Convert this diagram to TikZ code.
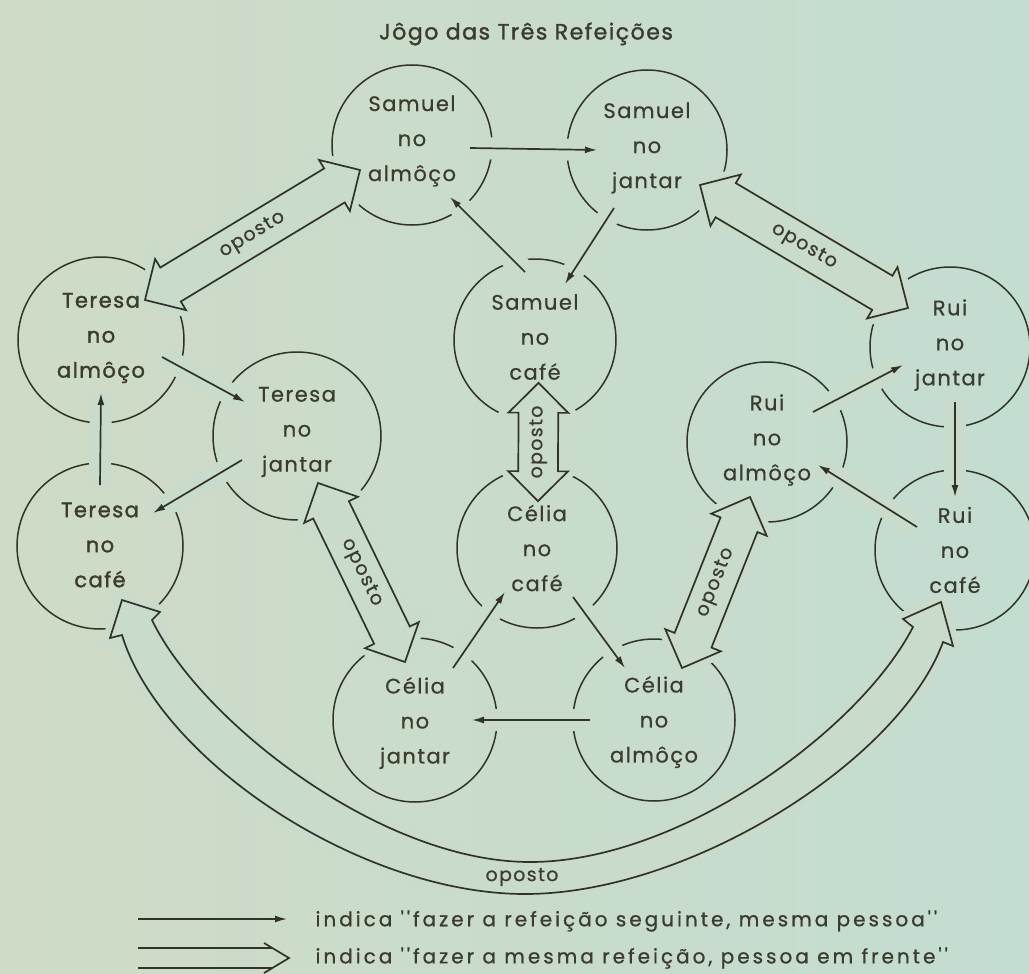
\documentclass[tikz,border=0pt]{standalone}
\usepackage{fontspec}
\setmainfont{Poppins}[LetterSpace=7,FakeBold=0.6]
\newfontfamily\heavy{Poppins}[LetterSpace=7,FakeBold=1.6]
\newfontfamily\keyfont{Poppins}[LetterSpace=15,FakeBold=0.8]
\usetikzlibrary{calc,arrows.meta,shapes.arrows}

\definecolor{paper}{RGB}{201,220,203}
\definecolor{paperL}{RGB}{207,219,198}
\definecolor{paperR}{RGB}{195,221,209}
\definecolor{ink}{RGB}{50,51,40}
\definecolor{type}{RGB}{60,60,46}

\tikzset{
  ring/.style={circle, draw=ink, line width=1.5pt, minimum size=#1, inner sep=0pt},
  words/.style={align=center, text=type, font=\fontsize{21}{35}\selectfont},
  boldwords/.style={align=center, text=type, font=\heavy\fontsize{21}{35}\selectfont},
  nxt/.style={draw=ink, line width=1.7pt, -{Latex[length=12pt,width=7pt]},
    preaction={draw=paper, line width=22pt, arrows=-}},
  opp/.style={double arrow, draw=ink, line width=1.7pt, fill=paper,
    double arrow head extend=10pt, double arrow tip angle=90,
    text height=12pt, text depth=4pt, inner ysep=11pt, inner xsep=2pt,
    text=type, font=\fontsize{19}{19}\selectfont,
    preaction={draw=paper, line width=14pt}},
  hollow/.style={draw=ink, line width=1.7pt, fill=paper, line join=miter,
    preaction={draw=paper, line width=14pt}},
}

% double-headed hollow arrow between two points, labelled "oposto"
\newcommand\opposite[3]{%
  \path let \p1=(#1), \p2=(#2), \n1={veclen(\x2-\x1,\y2-\y1)} in
    (\p1) -- (\p2) node[opp, midway, sloped, allow upside down, minimum height=\n1] (#3) {oposto};}

\begin{document}
\begin{tikzpicture}[x=1pt,y=-1pt]
\shade[left color=paperL, right color=paperR] (0,0) rectangle (1029,974);
\useasboundingbox (0,0) rectangle (1029,974);

% the twelve meals
\node[ring=160] (SA) at (412,145) {};
\node[ring=160] (SJ) at (647,150) {};
\node[ring=162] (SC) at (535,340) {};
\node[ring=160] (CC) at (537,548) {};
\node[ring=164] (CJ) at (415,720) {};
\node[ring=162] (CA) at (654,720) {};
\node[ring=166] (TA) at (101,340) {};
\node[ring=168] (TJ) at (297,436) {};
\node[ring=166] (TC) at (100,546) {};
\node[ring=160] (RJ) at (950,347) {};
\node[ring=160] (RA) at (767,442) {};
\node[ring=160] (RC) at (955,550) {};

% same meal, opposite person
\opposite{$(TA)+(44,-40)$}{$(SA)+(-52,25)$}{o1}
\opposite{$(SJ)+(53,35)$}{$(RJ)+(-42,-39)$}{o2}
\opposite{$(CC)+(1,-55)$}{$(SC)+(3.5,51)$}{o3}
\opposite{$(TJ)+(21,47)$}{$(CJ)+(-10,-58)$}{o4}
\opposite{$(CA)+(28,-52)$}{$(RA)+(-17,55)$}{o5}

% the long one, round the bottom, between the two breakfasts
\coordinate (t1) at ($(TC)+(22,54)$);
\coordinate (b1r) at ($(TC)+(60,66)$);
\coordinate (i1) at ($(TC)+(52,74)$);
\coordinate (o1e) at ($(TC)+(22,89)$);
\coordinate (b1l) at ($(TC)+(10,92)$);
\coordinate (t2) at ($(RC)+(-14,52)$);
\coordinate (b2l) at ($(RC)+(-52,69)$);
\coordinate (i2) at ($(RC)+(-42,77)$);
\coordinate (o2e) at ($(RC)+(-12,92)$);
\coordinate (b2r) at ($(RC)+(-2,96)$);
\draw[hollow] (t1) -- (b1r) -- (i1)
  .. controls (200,720) and (380,862) .. (530,862)
  .. controls (680,862) and (860,730) .. (i2)
  -- (b2l) -- (t2) -- (b2r) -- (o2e)
  .. controls (900,760) and (690,894) .. (525,894)
  .. controls (360,894) and (160,760) .. (o1e)
  -- (b1l) -- cycle;
\node[text=type, font=\fontsize{19}{19}\selectfont] (o6) at (522,877) {oposto};

% next meal, same person
\draw[nxt] ($(SA)+(58,3)$) -- ($(SJ)+(-50,0)$);
\draw[nxt] ($(SJ)+(-33,58)$) -- ($(SC)+(30,-56)$);
\draw[nxt] ($(SC)+(-10,-68)$) -- ($(SA)+(38,52)$);
\draw[nxt] ($(TA)+(61,17)$) -- ($(TJ)+(-52,-34)$);
\draw[nxt] ($(TJ)+(-55,24)$) -- ($(TC)+(53,-33)$);
\draw[nxt] ($(TC)+(0,-61)$) -- ($(TA)+(0,53)$);
\draw[nxt] ($(CC)+(36,49)$) -- ($(CA)+(-29,-52)$);
\draw[nxt] ($(CA)+(-64,0)$) -- ($(CJ)+(57,0)$);
\draw[nxt] ($(CJ)+(38,-52)$) -- ($(CC)+(-32,44)$);
\draw[nxt] ($(RJ)+(5,55)$) -- ($(RC)+(0,-53)$);
\draw[nxt] ($(RC)+(-38,-23)$) -- ($(RA)+(51,23)$);
\draw[nxt] ($(RA)+(46,-30)$) -- ($(RJ)+(-47,18)$);

% names
\node[words] (SAt) at ($(SA)+(0,-4)$) {Samuel\\no\\almôço};
\node[words] (SJt) at ($(SJ)+(0,-2)$) {Samuel\\no\\jantar};
\node[words] (SCt) at ($(SC)+(0,-3)$) {Samuel\\no\\café};
\node[words] (CCt) at (CC) {Célia\\no\\café};
\node[words] (CJt) at ($(CJ)+(0,3)$) {Célia\\no\\jantar};
\node[words] (CAt) at ($(CA)+(0,2)$) {Célia\\no\\almôço};
\node[boldwords] (TAt) at ($(TA)+(0,-2)$) {Teresa\\no\\almôço};
\node[words] (TJt) at ($(TJ)+(0,-4)$) {Teresa\\no\\jantar};
\node[boldwords] (TCt) at ($(TC)+(0,-1)$) {Teresa\\no\\café};
\node[words] (RJt) at ($(RJ)+(0,-2)$) {Rui\\no\\jantar};
\node[words] (RAt) at ($(RA)+(0,-2)$) {Rui\\no\\almôço};
\node[words] (RCt) at (RC) {Rui\\no\\café};

\node[text=type, font=\heavy\fontsize{22}{22}\selectfont] (title) at (526,34) {Jôgo das Três Refeições};

% key
\coordinate (k1) at (138,919);
\coordinate (k2) at (287,919);
\draw[draw=ink, line width=1.7pt, -{Latex[length=12pt,width=7pt]}] (k1) -- (k2);
\node[anchor=west, text=type, font=\keyfont\fontsize{20}{20}\selectfont] (key1) at (312,921) {indica ''fazer a refeição seguinte, mesma pessoa''};
\coordinate (k3) at (138,948);
\coordinate (k4) at (272,948);
\coordinate (k5) at (138,968);
\coordinate (k6) at (272,968);
\coordinate (k7) at (264,943);
\coordinate (k8) at (289,958);
\coordinate (k9) at (264,973);
\draw[draw=ink, line width=1.7pt] (k3) -- (k4) (k5) -- (k6) (k7) -- (k8) -- (k9);
\node[anchor=west, text=type, font=\keyfont\fontsize{20}{20}\selectfont] (key2) at (312,958) {indica ''fazer a mesma refeição, pessoa em frente''};
\end{tikzpicture}
\end{document}
